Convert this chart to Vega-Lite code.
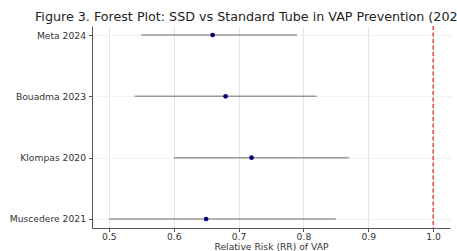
{
  "$schema": "https://vega.github.io/schema/vega-lite/v6.json",
  "autosize": {"type": "none"},
  "padding": {"left": 92, "top": 26, "right": 7, "bottom": 23},
  "width": 358,
  "height": 202,
  "background": "white",
  "title": {
    "text": "Figure 3. Forest Plot: SSD vs Standard Tube in VAP Prevention (2020–2024)",
    "anchor": "start",
    "frame": "group",
    "dx": -57,
    "offset": 2,
    "font": "DejaVu Sans",
    "fontSize": 12.7,
    "fontWeight": "normal",
    "color": "#222"
  },
  "config": {
    "view": {"stroke": null},
    "axis": {
      "labelFont": "DejaVu Sans",
      "titleFont": "DejaVu Sans",
      "labelFontSize": 9.2,
      "titleFontSize": 9.2,
      "titleFontWeight": "normal",
      "labelColor": "#333",
      "titleColor": "#333",
      "domainColor": "#555",
      "tickColor": "#555",
      "gridColor": "#e4e4e4",
      "tickSize": 3.5
    }
  },
  "data": {
    "values": [
      {"study": "Meta 2024", "rr": 0.66, "lo": 0.55, "hi": 0.79},
      {"study": "Bouadma 2023", "rr": 0.68, "lo": 0.54, "hi": 0.82},
      {"study": "Klompas 2020", "rr": 0.72, "lo": 0.60, "hi": 0.87},
      {"study": "Muscedere 2021", "rr": 0.65, "lo": 0.50, "hi": 0.85}
    ]
  },
  "layer": [
    {
      "mark": {"type": "rule", "color": "#999", "strokeWidth": 1.5},
      "encoding": {
        "y": {
          "field": "study", "type": "nominal",
          "sort": ["Meta 2024", "Bouadma 2023", "Klompas 2020", "Muscedere 2021"],
          "scale": {"type": "point", "padding": 0.147},
          "axis": {"title": null, "gridDash": [2, 2], "grid": true, "labelPadding": 3}
        },
        "x": {
          "field": "lo", "type": "quantitative",
          "scale": {"domain": [0.474, 1.026], "nice": false, "zero": false},
          "axis": {"values": [0.5, 0.6, 0.7, 0.8, 0.9, 1.0], "format": ".1f", "title": "Relative Risk (RR) of VAP", "titlePadding": 1, "grid": true, "labelPadding": 1}
        },
        "x2": {"field": "hi"}
      }
    },
    {
      "mark": {"type": "point", "filled": true, "color": "#00007a", "size": 22, "opacity": 1},
      "encoding": {
        "y": {"field": "study", "type": "nominal", "sort": ["Meta 2024", "Bouadma 2023", "Klompas 2020", "Muscedere 2021"]},
        "x": {"field": "rr", "type": "quantitative"}
      }
    },
    {
      "data": {"values": [{"ref": 1.0}]},
      "mark": {"type": "rule", "color": "#e8322e", "strokeDash": [4, 2.5], "strokeWidth": 1.3},
      "encoding": {"x": {"field": "ref", "type": "quantitative"}}
    }
  ]
}
